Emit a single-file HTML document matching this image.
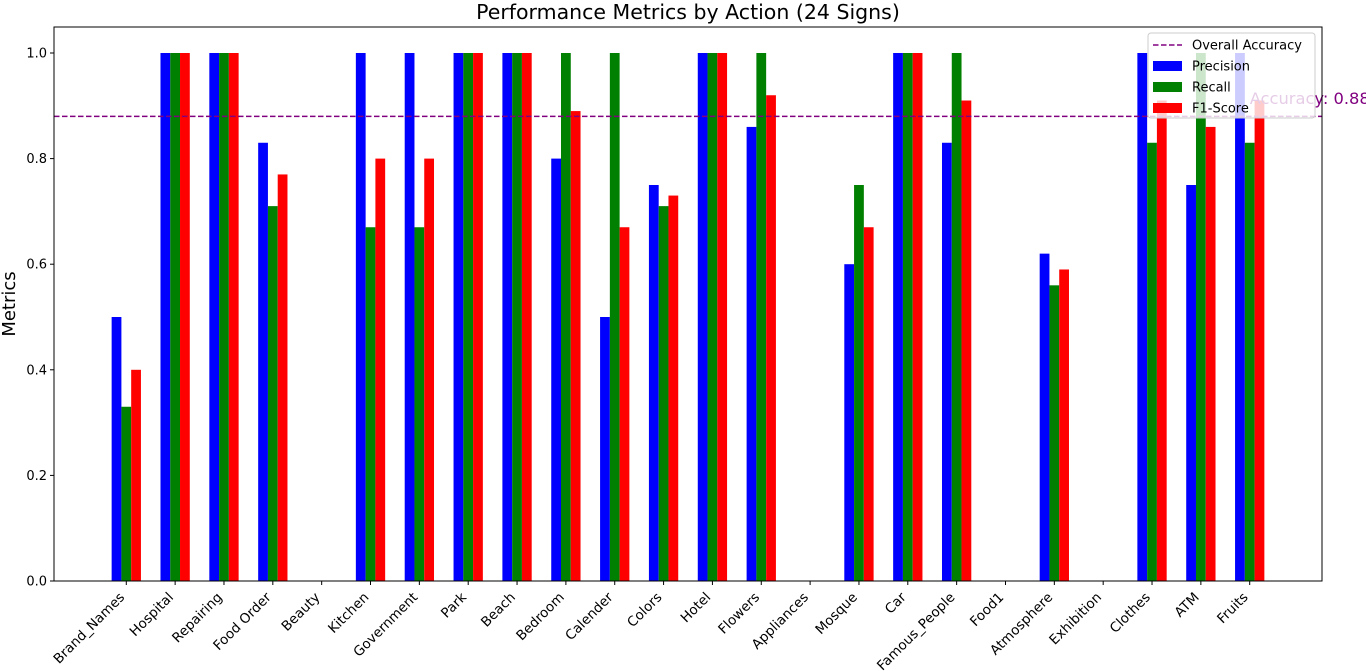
<!DOCTYPE html>
<html><head><meta charset="utf-8"><style>body{margin:0;background:#fff}svg{display:block;font-family:"DejaVu Sans","Liberation Sans",sans-serif}</style></head>
<body>
<svg id="chart" width="1366" height="671" viewBox="0 0 1366 671" xmlns="http://www.w3.org/2000/svg">
<rect width="1366" height="671" fill="#fff"/>
<text x="688" y="19" font-size="20.5" text-anchor="middle">Performance Metrics by Action (24 Signs)</text>
<text transform="translate(15,304) rotate(-90)" font-size="18" text-anchor="middle">Metrics</text>
<g id="bars"></g>
<g id="axes"></g>
</svg>
<script>
const categories=["Brand_Names","Hospital","Repairing","Food Order","Beauty","Kitchen","Government","Park","Beach","Bedroom","Calender","Colors","Hotel","Flowers","Appliances","Mosque","Car","Famous_People","Food1","Atmosphere","Exhibition","Clothes","ATM","Fruits"];
const precision=[0.5,1,1,0.83,0,1,1,1,1,0.8,0.5,0.75,1,0.86,0,0.6,1,0.83,0,0.62,0,1,0.75,1];
const recall=[0.33,1,1,0.71,0,0.67,0.67,1,1,1,1,0.71,1,1,0,0.75,1,1,0,0.56,0,0.83,1,0.83];
const f1=[0.4,1,1,0.77,0,0.8,0.8,1,1,0.89,0.67,0.73,1,0.92,0,0.67,1,0.91,0,0.59,0,0.91,0.86,0.91];
const accuracy=0.88;
const yTicks=["0.0","0.2","0.4","0.6","0.8","1.0"];

const NS="http://www.w3.org/2000/svg";
const L=54,R=1322,T=27,B=581;
const xmin=-1.48,xmax=24.48;
const X=v=>L+(v-xmin)/(xmax-xmin)*(R-L);
const Y=v=>B-v*528;
const svg=document.getElementById('chart');
function mk(tag,attrs,parent){const e=document.createElementNS(NS,tag);for(const k in attrs)e.setAttribute(k,attrs[k]);(parent||svg).appendChild(e);return e;}
const bars=document.getElementById('bars');
const series=[[precision,"#0000ff",-0.2,"precision"],[recall,"#008000",0,"recall"],[f1,"#ff0000",0.2,"f1"]];
const bw=X(0.2)-X(0);
series.forEach(([vals,col,off,nm])=>{
  vals.forEach((v,i)=>{
    const r=mk('rect',{x:X(i+off)-bw/2,y:Y(v),width:bw,height:Y(0)-Y(v),fill:col},bars);
    
    
  });
});
const ax=document.getElementById('axes');
const ln=mk('line',{x1:L,x2:R,y1:Y(accuracy),y2:Y(accuracy),stroke:"#800080","stroke-width":1.5,"stroke-dasharray":"5.5,2.5"},ax);


const at=mk('text',{x:X(23),y:Y(accuracy+0.02)-2,fill:"#800080","font-size":16.3},ax);
at.textContent="Accuracy: "+accuracy.toFixed(2);


const frame=mk('rect',{x:L,y:T,width:R-L,height:B-T,fill:"none",stroke:"#000","stroke-width":1},ax);


yTicks.forEach(t=>{
  const y=Y(parseFloat(t));
  mk('line',{x1:L-4,x2:L,y1:y,y2:y,stroke:"#000"},ax);
  const tx=mk('text',{x:L-7,y:y+4.5,"font-size":13,"text-anchor":"end"},ax);
  tx.textContent=t;
  
  
});
categories.forEach((c,i)=>{
  const x=X(i);
  mk('line',{x1:x,x2:x,y1:B,y2:B+4,stroke:"#000"},ax);
  const tx=mk('text',{transform:`translate(${x-1},${B+17}) rotate(-45)`,"font-size":13.5,"text-anchor":"end"},ax);
  tx.textContent=c;
  
  
});
const lg=mk('g',{},ax);


mk('rect',{x:1148,y:33,width:167,height:85,rx:3,fill:"#fff","fill-opacity":0.8,stroke:"#ccc"},lg);
mk('line',{x1:1153,x2:1182,y1:45,y2:45,stroke:"#800080","stroke-width":1.5,"stroke-dasharray":"5.5,2.5"},lg);
const items=[["Overall Accuracy",null],["Precision","#0000ff"],["Recall","#008000"],["F1-Score","#ff0000"]];
items.forEach(([n,c],k)=>{
  const y=45+k*21;
  if(c)mk('rect',{x:1153,y:y-5,width:29,height:10,fill:c},lg);
  const t=mk('text',{x:1192,y:y+4.5,"font-size":13},lg);
  t.textContent=n;
  
  
});
</script>
</body></html>
